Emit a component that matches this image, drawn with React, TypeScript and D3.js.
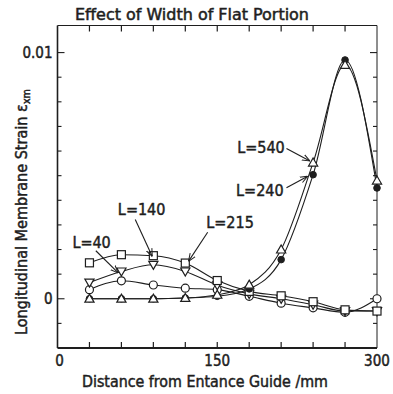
import React from "react";
import * as d3 from "d3";

// ---- data ----
const distances = [30, 60, 90, 120, 150, 180, 210, 240, 270, 300];
const seriesL40 = [0.00037, 0.00073, 0.00056, 0.00043, 0.00037, 0.0001, -0.00018, -0.00037, -0.00055, 0.0];
const seriesL140 = [0.00066, 0.00111, 0.00138, 0.00111, 0.00055, 0.0002, 0.0, -0.00024, -0.0005, -0.0005];
const seriesL215 = [0.00146, 0.00179, 0.00175, 0.00145, 0.00074, 0.0003, 0.00012, -0.00012, -0.00045, -0.0005];
const seriesL240 = [0, 0, 0, 0.00003, 0.0001, 0.0004, 0.00159, 0.00504, 0.0097, 0.0045];
const seriesL540 = [0, 0, 0, 0.00003, 0.00016, 0.00057, 0.002, 0.00553, 0.0095, 0.0048];
const xTickLabels = [0, 150, 300];
const xMinorTicks = [30, 60, 90, 120, 150, 180, 210, 240, 270];
const yTickLabels = [0, 0.01];
const yMinorTicks = [-0.001, 0, 0.001, 0.002, 0.003, 0.004, 0.005, 0.006, 0.007, 0.008, 0.009, 0.01];

// labels: text position and arrow (data units)
const annotations = [
  { text: "L=40", tx: 32, ty: 0.0023, fx: 36, fy: 0.00195, ax: 57, ay: 0.00105 },
  { text: "L=140", tx: 79, ty: 0.00366, fx: 73, fy: 0.00322, ax: 89, ay: 0.00172 },
  { text: "L=215", tx: 162, ty: 0.00313, fx: 141, fy: 0.0027, ax: 123, ay: 0.00152 },
  { text: "L=540", tx: 191, ty: 0.00618, fx: 215, fy: 0.0061, ax: 237, ay: 0.0056 },
  { text: "L=240", tx: 190, ty: 0.00443, fx: 215, fy: 0.00451, ax: 235, ay: 0.00498 },
];

const FONT = "'DejaVu Sans Condensed', 'Liberation Sans Narrow', 'DejaVu Sans', sans-serif";
const INK = "#1e1e1e";
const TXT = { fontFamily: FONT, fill: INK, stroke: INK, strokeWidth: 0.45 };

type Shape = "circle" | "invtri" | "square" | "filled" | "tri";

function Marker({ x, y, shape }: { x: number; y: number; shape: Shape }) {
  const common = { stroke: INK, strokeWidth: 1.2, fill: "white" };
  if (shape === "circle") return <circle cx={x} cy={y} r={4} {...common} />;
  if (shape === "filled") return <circle cx={x} cy={y} r={3.3} fill={INK} stroke={INK} />;
  if (shape === "square") return <rect x={x - 4} y={y - 4} width={8} height={8} {...common} />;
  const s = 4.6;
  if (shape === "tri")
    return <path d={`M${x},${y - s} L${x + s},${y + s * 0.75} L${x - s},${y + s * 0.75}Z`} {...common} />;
  return <path d={`M${x},${y + s} L${x + s},${y - s * 0.75} L${x - s},${y - s * 0.75}Z`} {...common} />;
}

export default function App() {
  const W = 393, H = 394;
  const left = 57.5, right = 377, top = 25.5, bottom = 348;
  const x = d3.scaleLinear().domain([0, 300]).range([left, right]);
  const y = d3.scaleLinear().domain([-0.002, 0.0111]).range([bottom, top]);

  const line = d3
    .line<number>()
    .x((_, i) => x(distances[i]))
    .y((d) => y(d))
    .curve(d3.curveMonotoneX);

  const series: { vals: number[]; shape: Shape }[] = [
    { vals: seriesL40, shape: "circle" },
    { vals: seriesL140, shape: "invtri" },
    { vals: seriesL215, shape: "square" },
    { vals: seriesL240, shape: "filled" },
    { vals: seriesL540, shape: "tri" },
  ];

  return (
    <svg width={W} height={H} style={{ position: "absolute", left: 0, top: 0, background: "white" }}>
      <defs>
        <marker id="arr" viewBox="0 0 10 10" refX="10" refY="5" markerWidth="7" markerHeight="7" orient="auto-start-reverse">
          <path d="M0,1 L10,5 L0,9" fill="none" stroke={INK} strokeWidth={1.3} />
        </marker>
      </defs>
      <rect width={W} height={H} fill="white" />
      {/* title */}
      <text x={192} y={20} textAnchor="middle" fontSize={15} {...TXT} textLength={234} lengthAdjust="spacingAndGlyphs">
        Effect of Width of Flat Portion
      </text>
      {/* frame */}
      <line x1={left} x2={right} y1={top} y2={top} stroke={INK} strokeWidth={1} />
      <line x1={right} x2={right} y1={top} y2={bottom} stroke={INK} strokeWidth={1} />
      <line x1={left} x2={left} y1={top} y2={bottom} stroke={INK} strokeWidth={1.6} />
      <line x1={left} x2={right} y1={bottom} y2={bottom} stroke={INK} strokeWidth={2} />
      {/* x ticks */}
      {xMinorTicks.map((t) => (
        <g key={"xt" + t}>
          <line x1={x(t)} x2={x(t)} y1={bottom} y2={bottom - 6} stroke={INK} strokeWidth={1.2} />
          <line x1={x(t)} x2={x(t)} y1={top} y2={top + 6} stroke={INK} strokeWidth={1.2} />
        </g>
      ))}
      {xTickLabels.map((t) => (
        <text key={"xl" + t} x={x(t) + (t === 0 ? 2 : 0)} y={366} textAnchor="middle" fontSize={15} {...TXT}>
          {t}
        </text>
      ))}
      {/* y ticks */}
      {yMinorTicks.map((t) => (
        <g key={"yt" + t}>
          <line x1={left} x2={left + (t === 0 || t === 0.01 ? 7 : 4)} y1={y(t)} y2={y(t)} stroke={INK} strokeWidth={1.1} />
          <line x1={right} x2={right - (t === 0 || t === 0.01 ? 7 : 4)} y1={y(t)} y2={y(t)} stroke={INK} strokeWidth={1.1} />
        </g>
      ))}
      {yTickLabels.map((t) => (
        <text key={"yl" + t} x={left - 5} y={y(t) + 5} textAnchor="end" fontSize={15} {...TXT}>
          {t === 0 ? "0" : "0.01"}
        </text>
      ))}
      {/* axis titles */}
      <text x={205} y={387} textAnchor="middle" fontSize={15} {...TXT} textLength={246} lengthAdjust="spacingAndGlyphs">
        Distance from Entance Guide /mm
      </text>
      <text transform="translate(27,212) rotate(-90)" textAnchor="middle" fontSize={15} {...TXT} textLength={246} lengthAdjust="spacingAndGlyphs">
        <tspan>Longitudinal Membrane Strain  ε</tspan>
        <tspan fontSize={10} dy={3}>xm</tspan>
      </text>
      {/* lines */}
      {series.map((s, i) => (
        <path key={"l" + i} d={line(s.vals) || ""} fill="none" stroke={INK} strokeWidth={1.1} />
      ))}
      {/* markers */}
      {series.map((s, i) => (
        <g key={"m" + i}>
          {s.vals.map((v, j) => (
            <Marker key={j} x={x(distances[j])} y={y(v)} shape={s.shape} />
          ))}
        </g>
      ))}
      {/* annotations */}
      {annotations.map((a) => (
        <g key={a.text}>
          <line x1={x(a.fx)} y1={y(a.fy)} x2={x(a.ax)} y2={y(a.ay)} stroke={INK} strokeWidth={1.1} markerEnd="url(#arr)" />
          <text x={x(a.tx)} y={y(a.ty) + 6} textAnchor="middle" fontSize={16} {...TXT}>
            {a.text}
          </text>
        </g>
      ))}
    </svg>
  );
}
